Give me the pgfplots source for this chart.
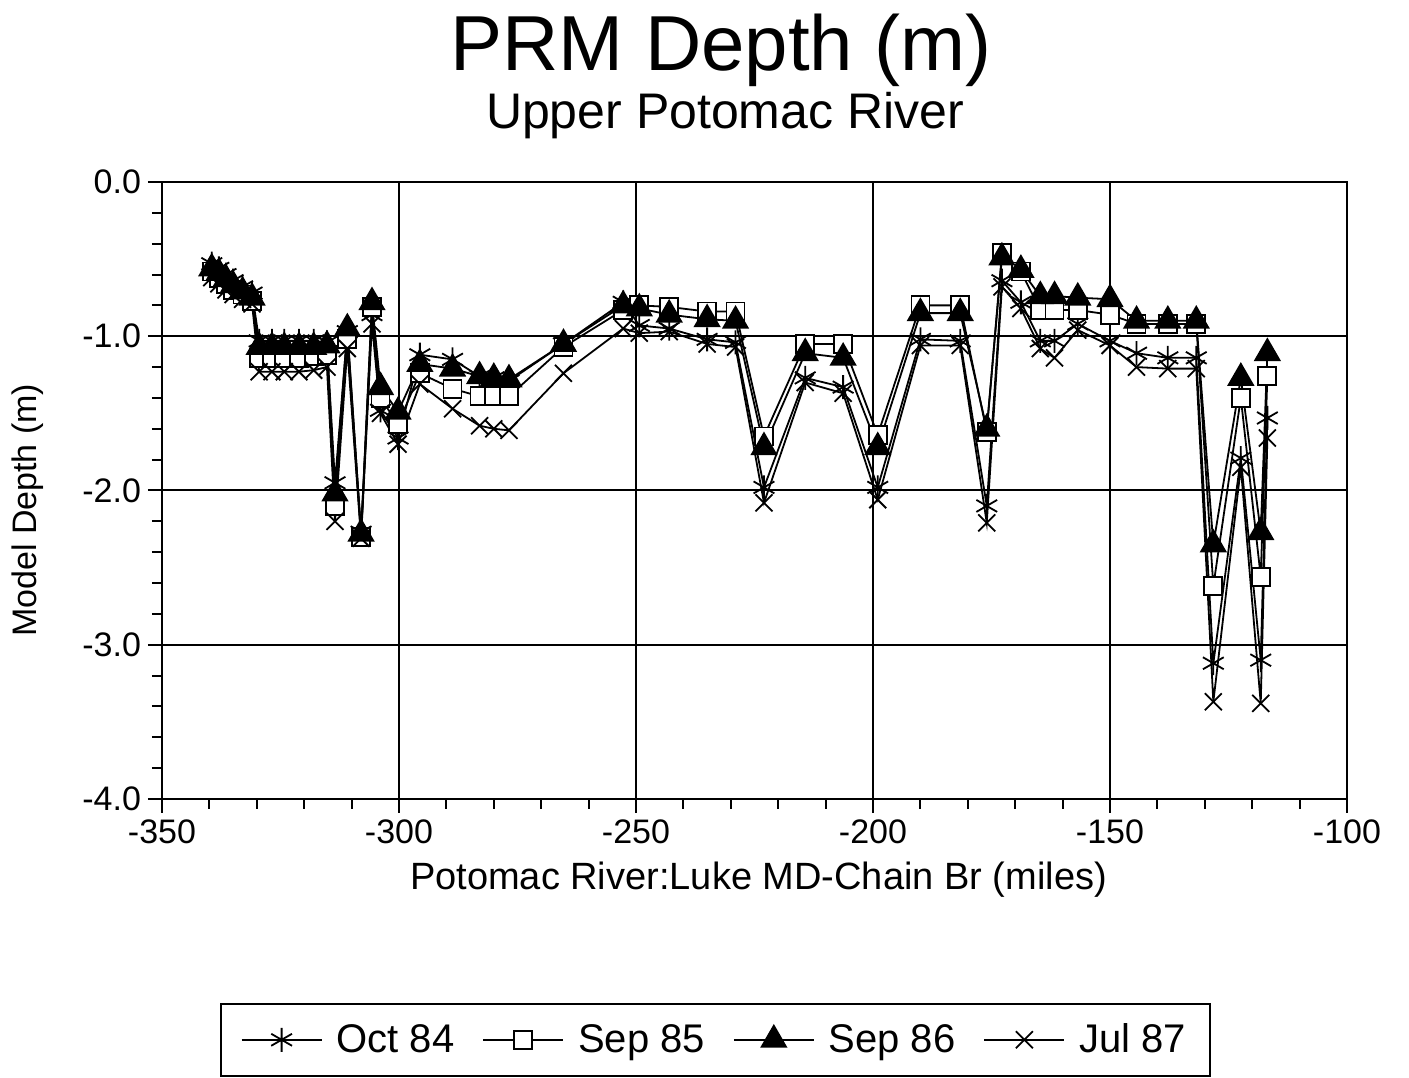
\documentclass[border=0pt]{standalone}
\usepackage{fontspec}
\setmainfont{Liberation Sans}
\usepackage{pgfplots}
\pgfplotsset{compat=1.18}
\usepackage{pgfplotstable}

% x = river mile; A = Oct 84, S = Sep 85, T = Sep 86, X = Jul 87
\pgfplotstableread{
x      A      S      T      X
-339.5 -0.53 -0.58 -0.56 -0.62
-338.0 -0.56 -0.62 -0.59 -0.66
-336.5 -0.60 -0.66 -0.63 -0.70
-335.0 -0.64 -0.70 -0.67 -0.73
-333.0 -0.68 -0.73 -0.71 -0.76
-331.0 -0.72 -0.77 -0.75 -0.79
-329.5 -1.03 -1.14 -1.07 -1.23
-326.8 -1.03 -1.14 -1.07 -1.23
-324.2 -1.03 -1.14 -1.07 -1.23
-321.1 -1.03 -1.14 -1.07 -1.23
-318.0 -1.03 -1.13 -1.07 -1.22
-315.2 -1.04 -1.12 -1.06 -1.20
-313.5 -1.95 -2.10 -2.02 -2.20
-310.9 -0.97 -1.02 -0.95 -1.08
-308.0 -2.27 -2.30 -2.28 -2.31
-305.7 -0.86 -0.81 -0.78 -0.92
-303.9 -1.48 -1.40 -1.33 -1.50
-300.2 -1.66 -1.57 -1.49 -1.70
-295.6 -1.12 -1.24 -1.18 -1.31
-288.7 -1.15 -1.34 -1.21 -1.47
-283.0 -1.26 -1.39 -1.26 -1.58
-280.0 -1.27 -1.39 -1.27 -1.60
-276.8 -1.29 -1.39 -1.28 -1.61
-265.3 -1.05 -1.07 -1.05 -1.24
-252.7 -0.78 -0.83 -0.80 -0.95
-249.3 -0.93 -0.80 -0.82 -0.98
-243.0 -0.95 -0.81 -0.86 -0.97
-235.0 -1.02 -0.84 -0.89 -1.05
-229.0 -1.04 -0.84 -0.90 -1.07
-223.0 -1.98 -1.65 -1.72 -2.08
-214.3 -1.27 -1.05 -1.11 -1.30
-206.3 -1.33 -1.05 -1.14 -1.37
-199.0 -1.98 -1.64 -1.72 -2.06
-190.0 -1.02 -0.80 -0.85 -1.06
-181.6 -1.03 -0.80 -0.85 -1.06
-176.0 -2.10 -1.62 -1.60 -2.21
-172.8 -0.64 -0.46 -0.49 -0.68
-168.8 -0.78 -0.58 -0.57 -0.82
-164.7 -1.03 -0.83 -0.74 -1.08
-161.7 -1.03 -0.83 -0.74 -1.14
-156.8 -0.92 -0.83 -0.75 -0.96
-150.0 -1.03 -0.86 -0.76 -1.06
-144.4 -1.11 -0.92 -0.90 -1.20
-137.8 -1.14 -0.92 -0.90 -1.21
-131.8 -1.14 -0.92 -0.90 -1.21
-128.2 -3.12 -2.62 -2.35 -3.37
-122.4 -1.79 -1.40 -1.27 -1.85
-118.2 -3.10 -2.56 -2.27 -3.38
-116.8 -1.53 -1.26 -1.11 -1.66
}\data

\begin{document}
\begin{tikzpicture}
\begin{axis}[
  name=ax,
  scale only axis, width=592.5pt, height=308.5pt,
  xmin=-350, xmax=-100, ymin=-4, ymax=0,
  xtick={-350,-300,-250,-200,-150,-100},
  xticklabels={-350,-300,-250,-200,-150,-100},
  minor x tick num=4,
  ytick={-4,-3,-2,-1,0},
  yticklabels={-4.0,-3.0,-2.0,-1.0,0.0},
  minor y tick num=4,
  tick pos=left,
  tick align=outside,
  major tick length=7pt, minor tick length=5pt,
  every tick/.style={black, line width=1pt},
  grid=major,
  major grid style={black, line width=1pt},
  axis line style={black, line width=1.2pt},
  tick label style={font=\fontsize{17}{17}\selectfont},
  xlabel={Potomac River:Luke MD-Chain Br (miles)},
  ylabel={Model Depth (m)},
  xlabel style={font=\fontsize{19}{19}\selectfont, xshift=2pt, yshift=-2pt},
  ylabel style={font=\fontsize{17}{17}\selectfont, at={(axis description cs:-0.113,0.468)}, anchor=center},
  legend columns=4,
  legend style={at={(0.467,-0.33)}, anchor=north, draw=black, line width=1.2pt,
    font=\fontsize{20}{20}\selectfont, inner xsep=10pt, inner ysep=8pt,
    /tikz/every even column/.append style={column sep=12pt}},
  legend image code/.code={\draw[mark repeat=2,mark phase=2,#1] plot coordinates {(0pt,0pt)(20pt,0pt)(40pt,0pt)};\path (45pt,0pt);},
]
\addplot[black, line width=0.9pt, mark=asterisk, mark size=6pt, mark options={line width=0.9pt}] table[x=x,y=A]{\data};
\addlegendentry{Oct 84}
\addplot[black, line width=0.9pt, mark=square*, mark size=4.5pt, mark options={fill=white, line width=0.9pt}] table[x=x,y=S]{\data};
\addlegendentry{Sep 85}
\addplot[black, line width=0.9pt, mark=triangle*, mark size=7pt, mark options={fill=black}] table[x=x,y=T]{\data};
\addlegendentry{Sep 86}
\addplot[black, line width=0.9pt, mark=x, mark size=6pt, mark options={line width=0.9pt}] table[x=x,y=X]{\data};
\addlegendentry{Jul 87}
\end{axis}
\node at ([shift={(-16.75pt,66pt)}]ax.north) {\fontsize{39}{39}\selectfont PRM Depth (m)};
\node at ([shift={(-14.75pt,33pt)}]ax.north) {\fontsize{25}{25}\selectfont Upper Potomac River};
\path ([shift={(-81pt,-139.5pt)}]ax.south west) rectangle ([shift={(31pt,91pt)}]ax.north east);
\end{tikzpicture}
\end{document}
